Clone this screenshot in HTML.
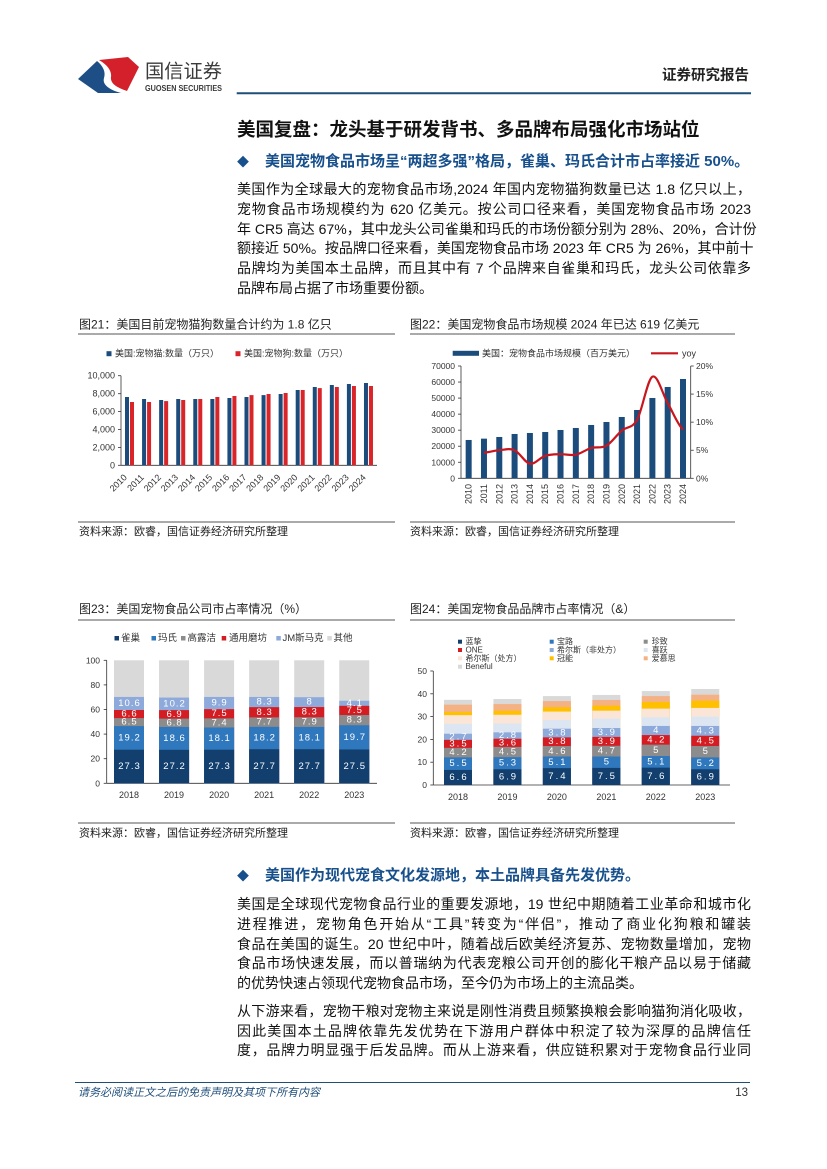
<!DOCTYPE html>
<html><head><meta charset="utf-8">
<style>
html,body{margin:0;padding:0;background:#fff;}
body{width:827px;height:1169px;position:relative;overflow:hidden;font-family:"Liberation Sans","Noto Sans CJK SC",sans-serif;}
svg{position:absolute;left:0;top:0;}
.t{position:absolute;white-space:nowrap;}
.p{position:absolute;left:237px;width:514px;font-size:14px;line-height:19.7px;color:#111;}
.p div{text-align:justify;text-align-last:justify;white-space:nowrap;height:19.7px;}
.p div.l{text-align-last:left;}
.bl{position:absolute;left:237px;font-size:15px;font-weight:bold;color:#17508c;line-height:20px;white-space:nowrap;}
.bl span{display:inline-block;width:28px;font-size:12px;}
</style></head><body>

<svg width="827" height="1169" viewBox="0 0 827 1169" font-family="Liberation Sans, Noto Sans CJK SC, sans-serif">
<!-- logo -->
<path d="M78,79 L97,61 C103,66 106,72 104,78 C102,85 110,90 121,93 L98,93 Z" fill="#1d4f86"/>
<path d="M99,60 L128,57 L139,67 L127,91 C118,88 110,84 111,77 C112,70 106,64 99,60 Z" fill="#d4202a"/>
<text x="145" y="72" font-size="19" fill="#3a3a3a" dominant-baseline="central" textLength="77" lengthAdjust="spacingAndGlyphs">国信证券</text>
<text x="145" y="88.3" font-size="8" font-weight="bold" fill="#3a3a3a" dominant-baseline="central" textLength="77" lengthAdjust="spacingAndGlyphs">GUOSEN SECURITIES</text>
<line x1="236.7" y1="93.3" x2="751" y2="93.3" stroke="#1f4e79" stroke-width="2"/>

<!-- footer -->
<line x1="75" y1="1082.5" x2="750" y2="1082.5" stroke="#1f4e79" stroke-width="1"/>

<!-- ===== Chart 21 ===== -->
<g font-size="12" fill="#222">
<text x="79" y="324.5" dominant-baseline="central">图21：美国目前宠物猫狗数量合计约为 1.8 亿只</text>
<text x="410" y="324.5" dominant-baseline="central">图22：美国宠物食品市场规模 2024 年已达 619 亿美元</text>
<text x="79" y="609" dominant-baseline="central">图23：美国宠物食品公司市占率情况（%）</text>
<text x="410" y="609" dominant-baseline="central">图24：美国宠物食品品牌市占率情况（&amp;）</text>
</g>
<g font-size="11" fill="#222">
<text x="79" y="532" dominant-baseline="central">资料来源：欧睿，国信证券经济研究所整理</text>
<text x="410" y="532" dominant-baseline="central">资料来源：欧睿，国信证券经济研究所整理</text>
<text x="79" y="833.5" dominant-baseline="central">资料来源：欧睿，国信证券经济研究所整理</text>
<text x="410" y="833.5" dominant-baseline="central">资料来源：欧睿，国信证券经济研究所整理</text>
</g>
<g stroke="#555" stroke-width="1">
<line x1="78" y1="334" x2="395" y2="334"/>
<line x1="410" y1="334" x2="735" y2="334"/>
<line x1="78" y1="522" x2="395" y2="522"/>
<line x1="410" y1="522" x2="735" y2="522"/>
<line x1="78" y1="620" x2="395" y2="620"/>
<line x1="410" y1="620" x2="735" y2="620"/>
<line x1="78" y1="823" x2="395" y2="823"/>
<line x1="410" y1="823" x2="735" y2="823"/>
</g>

<!-- chart21 legend -->
<rect x="106.5" y="351.2" width="5" height="5" fill="#1c4c7c"/>
<text x="115" y="353.7" font-size="9" fill="#333" dominant-baseline="central">美国:宠物猫:数量（万只）</text>
<rect x="235.5" y="351.2" width="5" height="5" fill="#d9252a"/>
<text x="244" y="353.7" font-size="9" fill="#333" dominant-baseline="central">美国:宠物狗:数量（万只）</text>
<!-- chart21 axes -->
<g font-size="9" fill="#333" text-anchor="end" dominant-baseline="central">
<text x="115" y="375.7">10,000</text>
<text x="115" y="393.7">8,000</text>
<text x="115" y="411.6">6,000</text>
<text x="115" y="429.5">4,000</text>
<text x="115" y="447.4">2,000</text>
<text x="115" y="465.3">0</text>
</g>
<g stroke="#333" stroke-width="0.8">
<line x1="121" y1="375.7" x2="121" y2="465.3"/>
<line x1="121" y1="465.3" x2="377" y2="465.3"/>
<line x1="118" y1="375.7" x2="121" y2="375.7"/>
<line x1="118" y1="393.7" x2="121" y2="393.7"/>
<line x1="118" y1="411.6" x2="121" y2="411.6"/>
<line x1="118" y1="429.5" x2="121" y2="429.5"/>
<line x1="118" y1="447.4" x2="121" y2="447.4"/>
<line x1="118" y1="465.3" x2="121" y2="465.3"/>
</g>
<g fill="#1c4c7c">
<rect x="125" y="397.0" width="4" height="68.3"/>
<rect x="142.07" y="399.0" width="4" height="66.3"/>
<rect x="159.14" y="400.0" width="4" height="65.3"/>
<rect x="176.21" y="399.0" width="4" height="66.3"/>
<rect x="193.28" y="399.0" width="4" height="66.3"/>
<rect x="210.35" y="399.0" width="4" height="66.3"/>
<rect x="227.42" y="398.0" width="4" height="67.3"/>
<rect x="244.49" y="397.0" width="4" height="68.3"/>
<rect x="261.56" y="395.1" width="4" height="70.2"/>
<rect x="278.63" y="394.0" width="4" height="71.3"/>
<rect x="295.7" y="390.0" width="4" height="75.3"/>
<rect x="312.77" y="387.0" width="4" height="78.3"/>
<rect x="329.84" y="385.0" width="4" height="80.3"/>
<rect x="346.91" y="384.0" width="4" height="81.3"/>
<rect x="363.98" y="383.0" width="4" height="82.3"/>
</g>
<g fill="#d9252a">
<rect x="130" y="402.0" width="4" height="63.3"/>
<rect x="147.07" y="402.0" width="4" height="63.3"/>
<rect x="164.14" y="401.1" width="4" height="64.2"/>
<rect x="181.21" y="400.0" width="4" height="65.3"/>
<rect x="198.28" y="399.0" width="4" height="66.3"/>
<rect x="215.35" y="397.0" width="4" height="68.3"/>
<rect x="232.42" y="396.0" width="4" height="69.3"/>
<rect x="249.49" y="395.1" width="4" height="70.2"/>
<rect x="266.56" y="394.0" width="4" height="71.3"/>
<rect x="283.63" y="393.0" width="4" height="72.3"/>
<rect x="300.7" y="390.0" width="4" height="75.3"/>
<rect x="317.77" y="388.1" width="4" height="77.2"/>
<rect x="334.84" y="387.0" width="4" height="78.3"/>
<rect x="351.91" y="386.0" width="4" height="79.3"/>
<rect x="368.98" y="386.0" width="4" height="79.3"/>
</g>
<g font-size="9" fill="#333" text-anchor="end">
<text transform="translate(127.5,478) rotate(-45)">2010</text>
<text transform="translate(144.57,478) rotate(-45)">2011</text>
<text transform="translate(161.64,478) rotate(-45)">2012</text>
<text transform="translate(178.71,478) rotate(-45)">2013</text>
<text transform="translate(195.78,478) rotate(-45)">2014</text>
<text transform="translate(212.85,478) rotate(-45)">2015</text>
<text transform="translate(229.92,478) rotate(-45)">2016</text>
<text transform="translate(246.99,478) rotate(-45)">2017</text>
<text transform="translate(264.06,478) rotate(-45)">2018</text>
<text transform="translate(281.13,478) rotate(-45)">2019</text>
<text transform="translate(298.2,478) rotate(-45)">2020</text>
<text transform="translate(315.27,478) rotate(-45)">2021</text>
<text transform="translate(332.34,478) rotate(-45)">2022</text>
<text transform="translate(349.41,478) rotate(-45)">2023</text>
<text transform="translate(366.48,478) rotate(-45)">2024</text>
</g>

<!-- ===== Chart 22 ===== -->
<rect x="452.7" y="350.8" width="26.3" height="5" fill="#1c4c7c"/>
<text x="482" y="353.3" font-size="9" fill="#333" dominant-baseline="central">美国：宠物食品市场规模（百万美元）</text>
<line x1="651" y1="353.3" x2="678" y2="353.3" stroke="#c8161e" stroke-width="2.2"/>
<text x="682" y="353.3" font-size="9" fill="#333" dominant-baseline="central">yoy</text>
<g font-size="8.5" fill="#333" text-anchor="end" dominant-baseline="central">
<text x="455" y="366">70000</text>
<text x="455" y="382.04">60000</text>
<text x="455" y="398.09">50000</text>
<text x="455" y="414.13">40000</text>
<text x="455" y="430.17">30000</text>
<text x="455" y="446.21">20000</text>
<text x="455" y="462.26">10000</text>
<text x="455" y="478.3">0</text>
</g>
<g font-size="8.5" fill="#333" dominant-baseline="central">
<text x="696" y="366">20%</text>
<text x="696" y="394.08">15%</text>
<text x="696" y="422.15">10%</text>
<text x="696" y="450.23">5%</text>
<text x="696" y="478.3">0%</text>
</g>
<g stroke="#333" stroke-width="0.8">
<line x1="461" y1="366" x2="461" y2="478.3"/>
<line x1="690.7" y1="366" x2="690.7" y2="478.3"/>
<line x1="461" y1="478.3" x2="690.7" y2="478.3"/>
<line x1="458" y1="366" x2="461" y2="366"/>
<line x1="458" y1="382.04" x2="461" y2="382.04"/>
<line x1="458" y1="398.09" x2="461" y2="398.09"/>
<line x1="458" y1="414.13" x2="461" y2="414.13"/>
<line x1="458" y1="430.17" x2="461" y2="430.17"/>
<line x1="458" y1="446.21" x2="461" y2="446.21"/>
<line x1="458" y1="462.26" x2="461" y2="462.26"/>
<line x1="458" y1="478.3" x2="461" y2="478.3"/>
<line x1="690.7" y1="366" x2="693.7" y2="366"/>
<line x1="690.7" y1="394.08" x2="693.7" y2="394.08"/>
<line x1="690.7" y1="422.15" x2="693.7" y2="422.15"/>
<line x1="690.7" y1="450.23" x2="693.7" y2="450.23"/>
<line x1="690.7" y1="478.3" x2="693.7" y2="478.3"/>
</g>
<g fill="#1c4c7c">
<rect x="465.66" y="439.97" width="6" height="38.33"/>
<rect x="480.97" y="438.64" width="6" height="39.66"/>
<rect x="496.28" y="436.97" width="6" height="41.33"/>
<rect x="511.59" y="433.97" width="6" height="44.33"/>
<rect x="526.9" y="432.98" width="6" height="45.32"/>
<rect x="542.21" y="431.98" width="6" height="46.32"/>
<rect x="557.52" y="429.98" width="6" height="48.32"/>
<rect x="572.83" y="427.97" width="6" height="50.33"/>
<rect x="588.14" y="424.97" width="6" height="53.33"/>
<rect x="603.45" y="421.99" width="6" height="56.31"/>
<rect x="618.76" y="416.98" width="6" height="61.32"/>
<rect x="634.07" y="409.99" width="6" height="68.31"/>
<rect x="649.38" y="397.99" width="6" height="80.31"/>
<rect x="664.69" y="386.98" width="6" height="91.32"/>
<rect x="680" y="378.99" width="6" height="99.31"/>
</g>
<path d="M483.97,452.64 C489.07,452.23 494.18,450.61 499.28,450.2 C504.38,449.79 509.49,447.95 514.59,450.2 C519.69,452.45 524.8,462.77 529.9,463.7 C535.0,464.63 540.11,457.38 545.21,455.8 C550.31,454.22 555.42,454.38 560.52,454.2 C565.62,454.02 570.73,455.73 575.83,454.7 C580.93,453.67 586.04,449.5 591.14,448.0 C596.24,446.5 601.35,448.6 606.45,445.7 C611.55,442.8 616.66,434.9 621.76,430.6 C626.86,426.3 631.97,428.88 637.07,419.9 C642.17,410.92 647.28,379.5 652.38,376.7 C657.48,373.9 662.59,394.3 667.69,403.1 C672.79,411.9 677.9,425.1 683.0,429.5" fill="none" stroke="#c8161e" stroke-width="2.2" stroke-linejoin="round"/>
<g font-size="9" fill="#333" text-anchor="end">
<text transform="translate(471.7,484) rotate(-90)">2010</text>
<text transform="translate(487,484) rotate(-90)">2011</text>
<text transform="translate(502.3,484) rotate(-90)">2012</text>
<text transform="translate(517.6,484) rotate(-90)">2013</text>
<text transform="translate(532.9,484) rotate(-90)">2014</text>
<text transform="translate(548.2,484) rotate(-90)">2015</text>
<text transform="translate(563.5,484) rotate(-90)">2016</text>
<text transform="translate(578.8,484) rotate(-90)">2017</text>
<text transform="translate(594.1,484) rotate(-90)">2018</text>
<text transform="translate(609.4,484) rotate(-90)">2019</text>
<text transform="translate(624.8,484) rotate(-90)">2020</text>
<text transform="translate(640.1,484) rotate(-90)">2021</text>
<text transform="translate(655.4,484) rotate(-90)">2022</text>
<text transform="translate(670.7,484) rotate(-90)">2023</text>
<text transform="translate(686,484) rotate(-90)">2024</text>
</g>

<!-- ===== Chart 23 ===== -->
<g font-size="9.5" fill="#333" dominant-baseline="central">
<rect x="114.5" y="636" width="4.5" height="4.5" fill="#123f6e"/><text x="121" y="638.3">雀巢</text>
<rect x="151.5" y="636" width="4.5" height="4.5" fill="#2f78bd"/><text x="158" y="638.3">玛氏</text>
<rect x="181" y="636" width="4.5" height="4.5" fill="#8c8c8c"/><text x="187.5" y="638.3">高露洁</text>
<rect x="221.7" y="636" width="4.5" height="4.5" fill="#d41d23"/><text x="229" y="638.3">通用磨坊</text>
<rect x="276.3" y="636" width="4.5" height="4.5" fill="#8eaadb"/><text x="282.5" y="638.3">JM斯马克</text>
<rect x="327.3" y="636" width="4.5" height="4.5" fill="#d9d9d9"/><text x="333.5" y="638.3">其他</text>
</g>
<g font-size="8.5" fill="#333" text-anchor="end" dominant-baseline="central">
<text x="100" y="660.3">100</text>
<text x="100" y="684.9">80</text>
<text x="100" y="709.5">60</text>
<text x="100" y="734.1">40</text>
<text x="100" y="758.7">20</text>
<text x="100" y="783.3">0</text>
</g>
<g stroke="#333" stroke-width="0.8">
<line x1="106.7" y1="660.3" x2="106.7" y2="783.3"/>
<line x1="106.7" y1="783.3" x2="377" y2="783.3"/>
<line x1="103.7" y1="660.3" x2="106.7" y2="660.3"/>
<line x1="103.7" y1="684.9" x2="106.7" y2="684.9"/>
<line x1="103.7" y1="709.5" x2="106.7" y2="709.5"/>
<line x1="103.7" y1="734.1" x2="106.7" y2="734.1"/>
<line x1="103.7" y1="758.7" x2="106.7" y2="758.7"/>
<line x1="103.7" y1="783.3" x2="106.7" y2="783.3"/>
</g>
<g transform="translate(114,0)">
<rect y="660.3" width="30" height="123" fill="#d9d9d9"/>
<rect y="696.95" width="30" height="86.35" fill="#8eaadb"/>
<rect y="710" width="30" height="73.3" fill="#d41d23"/>
<rect y="718.11" width="30" height="65.19" fill="#8c8c8c"/>
<rect y="726.11" width="30" height="57.19" fill="#2f78bd"/>
<rect y="749.72" width="30" height="33.58" fill="#123f6e"/>
</g>
<g transform="translate(159.05,0)">
<rect y="660.3" width="30" height="123" fill="#d9d9d9"/>
<rect y="697.57" width="30" height="85.73" fill="#8eaadb"/>
<rect y="710.11" width="30" height="73.19" fill="#d41d23"/>
<rect y="718.6" width="30" height="64.7" fill="#8c8c8c"/>
<rect y="726.97" width="30" height="56.33" fill="#2f78bd"/>
<rect y="749.84" width="30" height="33.46" fill="#123f6e"/>
</g>
<g transform="translate(204.1,0)">
<rect y="660.3" width="30" height="123" fill="#d9d9d9"/>
<rect y="696.95" width="30" height="86.35" fill="#8eaadb"/>
<rect y="709.13" width="30" height="74.17" fill="#d41d23"/>
<rect y="718.36" width="30" height="64.94" fill="#8c8c8c"/>
<rect y="727.46" width="30" height="55.84" fill="#2f78bd"/>
<rect y="749.72" width="30" height="33.58" fill="#123f6e"/>
</g>
<g transform="translate(249.15,0)">
<rect y="660.3" width="30" height="123" fill="#d9d9d9"/>
<rect y="696.95" width="30" height="86.35" fill="#8eaadb"/>
<rect y="707.16" width="30" height="76.14" fill="#d41d23"/>
<rect y="717.37" width="30" height="65.93" fill="#8c8c8c"/>
<rect y="726.84" width="30" height="56.46" fill="#2f78bd"/>
<rect y="749.23" width="30" height="34.07" fill="#123f6e"/>
</g>
<g transform="translate(294.2,0)">
<rect y="660.3" width="30" height="123" fill="#d9d9d9"/>
<rect y="697.2" width="30" height="86.1" fill="#8eaadb"/>
<rect y="707.04" width="30" height="76.26" fill="#d41d23"/>
<rect y="717.25" width="30" height="66.05" fill="#8c8c8c"/>
<rect y="726.97" width="30" height="56.33" fill="#2f78bd"/>
<rect y="749.23" width="30" height="34.07" fill="#123f6e"/>
</g>
<g transform="translate(339.25,0)">
<rect y="660.3" width="30" height="123" fill="#d9d9d9"/>
<rect y="700.77" width="30" height="82.53" fill="#8eaadb"/>
<rect y="705.81" width="30" height="77.49" fill="#d41d23"/>
<rect y="715.04" width="30" height="68.26" fill="#8c8c8c"/>
<rect y="725.24" width="30" height="58.06" fill="#2f78bd"/>
<rect y="749.48" width="30" height="33.82" fill="#123f6e"/>
</g>
<g font-size="9.5" fill="#fff" text-anchor="middle" dominant-baseline="central" letter-spacing="1">
<text x="129.5" y="766.5">27.3</text><text x="129.5" y="737.9">19.2</text><text x="129.5" y="722.1">6.5</text><text x="129.5" y="714.05">6.6</text><text x="129.5" y="703.5">10.6</text>
<text x="174.55" y="766.6">27.2</text><text x="174.55" y="738.4">18.6</text><text x="174.55" y="722.8">6.8</text><text x="174.55" y="714.4">6.9</text><text x="174.55" y="703.8">10.2</text>
<text x="219.6" y="766.5">27.3</text><text x="219.6" y="738.6">18.1</text><text x="219.6" y="722.9">7.4</text><text x="219.6" y="713.7">7.5</text><text x="219.6" y="703">9.9</text>
<text x="264.65" y="766.3">27.7</text><text x="264.65" y="738">18.2</text><text x="264.65" y="722.1">7.7</text><text x="264.65" y="712.3">8.3</text><text x="264.65" y="702.1">8.3</text>
<text x="309.7" y="766.3">27.7</text><text x="309.7" y="738.1">18.1</text><text x="309.7" y="722.1">7.9</text><text x="309.7" y="712.1">8.3</text><text x="309.7" y="702.1">8</text>
<text x="354.75" y="766.4">27.5</text><text x="354.75" y="737.4">19.7</text><text x="354.75" y="720.1">8.3</text><text x="354.75" y="710.4">7.5</text><text x="354.75" y="703.3">4.1</text>
</g>
<g font-size="9" fill="#333" text-anchor="middle" dominant-baseline="central">
<text x="129" y="795">2018</text><text x="174.05" y="795">2019</text><text x="219.1" y="795">2020</text>
<text x="264.15" y="795">2021</text><text x="309.2" y="795">2022</text><text x="354.25" y="795">2023</text>
</g>

<!-- ===== Chart 24 ===== -->
<g font-size="8" fill="#333" dominant-baseline="central">
<rect x="458" y="639.7" width="4" height="4" fill="#123f6e"/><text x="465.5" y="641.7">蓝挚</text>
<rect x="549.7" y="639.7" width="4" height="4" fill="#2f78bd"/><text x="557" y="641.7">宝路</text>
<rect x="643.7" y="639.7" width="4" height="4" fill="#8c8c8c"/><text x="651.7" y="641.7">珍致</text>
<rect x="458" y="648" width="4" height="4" fill="#d41d23"/><text x="465.5" y="650">ONE</text>
<rect x="549.7" y="648" width="4" height="4" fill="#8eaadb"/><text x="557" y="650">希尔斯（非处方）</text>
<rect x="643.7" y="648" width="4" height="4" fill="#dce6f2"/><text x="651.7" y="650">喜跃</text>
<rect x="458" y="656.3" width="4" height="4" fill="#fbe5d6"/><text x="465.5" y="658.3">希尔斯（处方）</text>
<rect x="549.7" y="656.3" width="4" height="4" fill="#ffc000"/><text x="557" y="658.3">冠能</text>
<rect x="643.7" y="656.3" width="4" height="4" fill="#f4b183"/><text x="651.7" y="658.3">爱慕思</text>
<rect x="458" y="664.7" width="4" height="4" fill="#d9d9d9"/><text x="465.5" y="666.7">Beneful</text>
</g>
<g font-size="8.5" fill="#333" text-anchor="end" dominant-baseline="central">
<text x="427" y="671">50</text>
<text x="427" y="693.8">40</text>
<text x="427" y="716.6">30</text>
<text x="427" y="739.4">20</text>
<text x="427" y="762.2">10</text>
<text x="427" y="785">0</text>
</g>
<g stroke="#333" stroke-width="0.8">
<line x1="433.3" y1="671" x2="433.3" y2="785"/>
<line x1="433.3" y1="785" x2="730" y2="785"/>
<line x1="430.3" y1="671" x2="433.3" y2="671"/>
<line x1="430.3" y1="693.8" x2="433.3" y2="693.8"/>
<line x1="430.3" y1="716.6" x2="433.3" y2="716.6"/>
<line x1="430.3" y1="739.4" x2="433.3" y2="739.4"/>
<line x1="430.3" y1="762.2" x2="433.3" y2="762.2"/>
<line x1="430.3" y1="785" x2="433.3" y2="785"/>
</g>
<g transform="translate(444,0)">
<rect y="699.84" width="28" height="85.16" fill="#d9d9d9"/>
<rect y="704.63" width="28" height="80.37" fill="#f4b183"/>
<rect y="711.93" width="28" height="73.07" fill="#ffc000"/>
<rect y="715.12" width="28" height="69.88" fill="#fbe5d6"/>
<rect y="723.9" width="28" height="61.1" fill="#dce6f2"/>
<rect y="733.7" width="28" height="51.3" fill="#8eaadb"/>
<rect y="739.86" width="28" height="45.14" fill="#d41d23"/>
<rect y="747.84" width="28" height="37.16" fill="#8c8c8c"/>
<rect y="757.41" width="28" height="27.59" fill="#2f78bd"/>
<rect y="769.95" width="28" height="15.05" fill="#123f6e"/>
</g>
<g transform="translate(493.45,0)">
<rect y="699.04" width="28" height="85.96" fill="#d9d9d9"/>
<rect y="704.06" width="28" height="80.94" fill="#f4b183"/>
<rect y="710.67" width="28" height="74.33" fill="#ffc000"/>
<rect y="714.78" width="28" height="70.22" fill="#fbe5d6"/>
<rect y="723.44" width="28" height="61.56" fill="#dce6f2"/>
<rect y="732.33" width="28" height="52.67" fill="#8eaadb"/>
<rect y="738.72" width="28" height="46.28" fill="#d41d23"/>
<rect y="746.92" width="28" height="38.08" fill="#8c8c8c"/>
<rect y="757.18" width="28" height="27.82" fill="#2f78bd"/>
<rect y="769.27" width="28" height="15.73" fill="#123f6e"/>
</g>
<g transform="translate(542.9,0)">
<rect y="696.08" width="28" height="88.92" fill="#d9d9d9"/>
<rect y="701.1" width="28" height="83.9" fill="#f4b183"/>
<rect y="707.25" width="28" height="77.75" fill="#ffc000"/>
<rect y="711.58" width="28" height="73.42" fill="#fbe5d6"/>
<rect y="720.02" width="28" height="64.98" fill="#dce6f2"/>
<rect y="728.68" width="28" height="56.32" fill="#8eaadb"/>
<rect y="737.35" width="28" height="47.65" fill="#d41d23"/>
<rect y="746.01" width="28" height="38.99" fill="#8c8c8c"/>
<rect y="756.5" width="28" height="28.5" fill="#2f78bd"/>
<rect y="768.13" width="28" height="16.87" fill="#123f6e"/>
</g>
<g transform="translate(592.35,0)">
<rect y="694.94" width="28" height="90.06" fill="#d9d9d9"/>
<rect y="699.96" width="28" height="85.04" fill="#f4b183"/>
<rect y="705.66" width="28" height="79.34" fill="#ffc000"/>
<rect y="710.67" width="28" height="74.33" fill="#fbe5d6"/>
<rect y="718.65" width="28" height="66.35" fill="#dce6f2"/>
<rect y="728" width="28" height="57" fill="#8eaadb"/>
<rect y="736.89" width="28" height="48.11" fill="#d41d23"/>
<rect y="745.78" width="28" height="39.22" fill="#8c8c8c"/>
<rect y="756.5" width="28" height="28.5" fill="#2f78bd"/>
<rect y="767.9" width="28" height="17.1" fill="#123f6e"/>
</g>
<g transform="translate(641.8,0)">
<rect y="691.06" width="28" height="93.94" fill="#d9d9d9"/>
<rect y="696.08" width="28" height="88.92" fill="#f4b183"/>
<rect y="702.01" width="28" height="82.99" fill="#ffc000"/>
<rect y="708.62" width="28" height="76.38" fill="#fbe5d6"/>
<rect y="717.28" width="28" height="67.72" fill="#dce6f2"/>
<rect y="725.95" width="28" height="59.05" fill="#8eaadb"/>
<rect y="735.07" width="28" height="49.93" fill="#d41d23"/>
<rect y="744.64" width="28" height="40.36" fill="#8c8c8c"/>
<rect y="756.04" width="28" height="28.96" fill="#2f78bd"/>
<rect y="767.67" width="28" height="17.33" fill="#123f6e"/>
</g>
<g transform="translate(691.25,0)">
<rect y="689.01" width="28" height="95.99" fill="#d9d9d9"/>
<rect y="694.71" width="28" height="90.29" fill="#f4b183"/>
<rect y="700.64" width="28" height="84.36" fill="#ffc000"/>
<rect y="707.94" width="28" height="77.06" fill="#fbe5d6"/>
<rect y="716.6" width="28" height="68.4" fill="#dce6f2"/>
<rect y="725.95" width="28" height="59.05" fill="#8eaadb"/>
<rect y="735.75" width="28" height="49.25" fill="#d41d23"/>
<rect y="746.01" width="28" height="38.99" fill="#8c8c8c"/>
<rect y="757.41" width="28" height="27.59" fill="#2f78bd"/>
<rect y="769.27" width="28" height="15.73" fill="#123f6e"/>
</g>
<g font-size="9.5" fill="#fff" text-anchor="middle" dominant-baseline="central" letter-spacing="2">
<text x="459" y="777.5">6.6</text><text x="459" y="763.7">5.5</text><text x="459" y="752.6">4.2</text><text x="459" y="743.85">3.5</text><text x="459" y="736.8">2.7</text>
<text x="508.45" y="777.1">6.9</text><text x="508.45" y="763.2">5.3</text><text x="508.45" y="752.05">4.5</text><text x="508.45" y="742.8">3.6</text><text x="508.45" y="735.5">2.8</text>
<text x="557.9" y="776.6">7.4</text><text x="557.9" y="762.3">5.1</text><text x="557.9" y="751.3">4.6</text><text x="557.9" y="741.7">3.8</text><text x="557.9" y="733">3.8</text>
<text x="607.35" y="776.45">7.5</text><text x="607.35" y="762.2">5</text><text x="607.35" y="751.1">4.7</text><text x="607.35" y="741.3">3.9</text><text x="607.35" y="732.4">3.9</text>
<text x="656.8" y="776.3">7.6</text><text x="656.8" y="761.9">5.1</text><text x="656.8" y="750.3">5</text><text x="656.8" y="739.9">4.2</text><text x="656.8" y="730.5">4</text>
<text x="706.25" y="777.1">6.9</text><text x="706.25" y="763.3">5.2</text><text x="706.25" y="751.7">5</text><text x="706.25" y="740.9">4.5</text><text x="706.25" y="730.85">4.3</text>
</g>
<g font-size="9" fill="#333" text-anchor="middle" dominant-baseline="central">
<text x="458" y="797">2018</text><text x="507.45" y="797">2019</text><text x="556.9" y="797">2020</text>
<text x="606.35" y="797">2021</text><text x="655.8" y="797">2022</text><text x="705.25" y="797">2023</text>
</g>
</svg>

<!-- header right -->
<div class="t" style="right:78px;top:67px;font-size:14.5px;font-weight:bold;line-height:18px;color:#222;">证券研究报告</div>

<!-- title -->
<div class="t" style="left:237px;top:117px;font-size:18.5px;font-weight:bold;line-height:26px;color:#111;">美国复盘：龙头基于研发背书、多品牌布局强化市场站位</div>

<div class="bl" style="top:151.7px;"><span>◆</span>美国宠物食品市场呈“两超多强”格局，雀巢、玛氏合计市占率接近 50%。</div>

<div class="p" style="top:180.2px;">
<div>美国作为全球最大的宠物食品市场,2024 年国内宠物猫狗数量已达 1.8 亿只以上，</div>
<div>宠物食品市场规模约为 620 亿美元。按公司口径来看，美国宠物食品市场 2023</div>
<div>年 CR5 高达 67%，其中龙头公司雀巢和玛氏的市场份额分别为 28%、20%，合计份</div>
<div>额接近 50%。按品牌口径来看，美国宠物食品市场 2023 年 CR5 为 26%，其中前十</div>
<div>品牌均为美国本土品牌，而且其中有 7 个品牌来自雀巢和玛氏，龙头公司依靠多</div>
<div class="l">品牌布局占据了市场重要份额。</div>
</div>

<div class="bl" style="top:865.7px;"><span>◆</span>美国作为现代宠食文化发源地，本土品牌具备先发优势。</div>

<div class="p" style="top:895.2px;">
<div>美国是全球现代宠物食品行业的重要发源地，19 世纪中期随着工业革命和城市化</div>
<div>进程推进，宠物角色开始从“工具”转变为“伴侣”，推动了商业化狗粮和罐装</div>
<div>食品在美国的诞生。20 世纪中叶，随着战后欧美经济复苏、宠物数量增加，宠物</div>
<div>食品市场快速发展，而以普瑞纳为代表宠粮公司开创的膨化干粮产品以易于储藏</div>
<div class="l">的优势快速占领现代宠物食品市场，至今仍为市场上的主流品类。</div>
</div>

<div class="p" style="top:1001.9px;">
<div>从下游来看，宠物干粮对宠物主来说是刚性消费且频繁换粮会影响猫狗消化吸收，</div>
<div>因此美国本土品牌依靠先发优势在下游用户群体中积淀了较为深厚的品牌信任</div>
<div>度，品牌力明显强于后发品牌。而从上游来看，供应链积累对于宠物食品行业同</div>
</div>

<!-- footer -->
<div class="t" style="left:78px;top:1086px;font-size:11px;font-style:italic;line-height:14px;color:#1f4e79;">请务必阅读正文之后的免责声明及其项下所有内容</div>
<div class="t" style="right:79px;top:1085.5px;font-size:11.5px;line-height:15px;color:#333;">13</div>

</body></html>
